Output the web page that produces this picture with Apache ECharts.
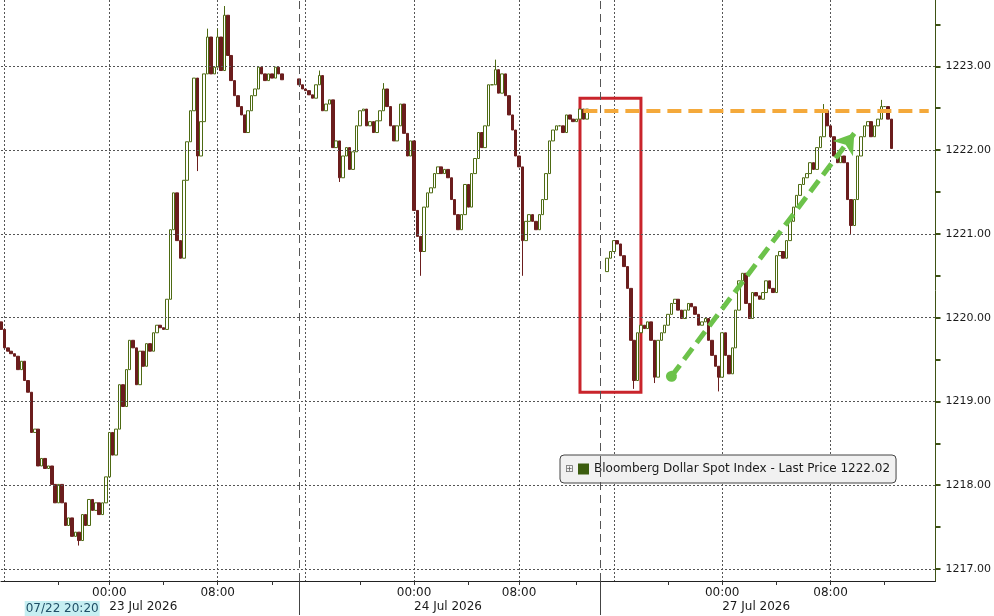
<!DOCTYPE html>
<html>
<head>
<meta charset="utf-8">
<script src="https://cdn.jsdelivr.net/npm/echarts@6/dist/echarts.min.js"></script>
<style>html,body{margin:0;padding:0;background:#fff}#c{width:994px;height:616px}</style>
</head>
<body>
<div id="c"></div>
<script>
// ---- data: 15-minute closes, by session ----
const session1Closes = [
  1219.86,1219.64,1219.60,1219.57,1219.54,1219.38,1219.48,1219.25,1219.11,1218.63,
  1218.67,1218.23,1218.32,1218.20,1218.23,1218.01,1217.79,1218.01,1217.79,1217.52,
  1217.61,1217.39,1217.44,1217.34,1217.65,1217.52,1217.83,1217.70,1217.79,1217.65,
  1217.79,1218.10,1218.63,1218.36,1218.67,1219.20,1218.94,1219.38,1219.73,1219.64,
  1219.20,1219.60,1219.42,1219.69,1219.60,1219.82,1219.91,1219.88,1219.86,1220.22,
  1221.05,1221.49,1220.92,1220.71,1221.64,1222.10,1222.47,1222.86,1221.93,1222.34,
  1222.91,1223.35,1222.91,1222.99,1223.35,1222.95,1223.61,1223.13,1222.83,1222.65,
  1222.52,1222.42,1222.21,1222.47,1222.65,1222.73,1222.99,1222.91,1222.83,1222.91,
  1222.86,1222.99,1222.91,1222.84
];
const session2Closes = [
  1222.78,1222.73,1222.71,1222.66,1222.62,1222.78,1222.89,1222.47,1222.55,1222.60,
  1222.03,1222.11,1221.67,1221.93,1222.03,1221.77,1221.98,1222.29,1222.47,1222.49,
  1222.29,1222.34,1222.21,1222.35,1222.47,1222.73,1222.52,1222.29,1222.11,1222.29,
  1222.55,1222.20,1221.93,1222.11,1221.28,1220.97,1220.79,1221.32,1221.49,1221.55,
  1221.72,1221.80,1221.72,1221.77,1221.67,1221.41,1221.23,1221.05,1221.23,1221.59,
  1221.32,1221.72,1221.90,1222.21,1222.03,1222.29,1222.78,1222.78,1222.96,1222.68,
  1222.91,1222.65,1222.42,1222.24,1221.93,1221.80,1220.92,1221.15,1221.23,1221.15,
  1221.05,1221.23,1221.41,1221.72,1222.11,1222.24,1222.29,1222.29,1222.21,1222.42,
  1222.37,1222.34,1222.37,1222.49,1222.37,1222.49
];
const session3Closes = [
  1220.71,1220.79,1220.92,1220.88,1220.74,1220.61,1220.35,1219.73,1219.25,1219.82,
  1219.91,1219.87,1219.95,1219.73,1219.29,1219.73,1219.82,1219.91,1220.04,1220.17,
  1220.22,1220.09,1219.99,1220.09,1220.17,1220.13,1220.04,1219.91,1219.95,1219.99,
  1219.73,1219.55,1219.42,1219.29,1219.82,1219.55,1219.33,1219.64,1220.09,1220.44,
  1220.53,1220.17,1219.99,1220.30,1220.26,1220.22,1220.30,1220.44,1220.35,1220.30,
  1220.74,1220.79,1220.71,1220.92,1221.15,1221.32,1221.46,1221.59,1221.67,1221.72,
  1221.85,1221.77,1222.03,1222.16,1222.47,1222.29,1222.16,1221.93,1221.85,1221.93,
  1221.85,1221.41,1221.10,1221.41,1221.93,1222.16,1222.29,1222.34,1222.16,1222.29,
  1222.37,1222.52,1222.52,1222.37,1222.02
];
const sessionOpens = [1219.95, 1222.85, 1220.55];
const sessionGapSlots = [4, 5, 13];          // empty slots after each session
const highWicks = [[61,1223.45],[64,1223.45],[66,1223.72],[94,1222.95],[113,1222.80],[146,1223.08],[243,1222.55],[260,1222.60]];
const lowWicks  = [[23,1217.28],[58,1221.75],[100,1221.62],[124,1220.50],[154,1220.50],[187,1219.15],[193,1219.22],[212,1219.12],[251,1221.00]];

// ticks / labels
const timeTickIdx  = [32, 64, 122, 153, 213, 245];
const timeTickText = ['00:00','08:00','00:00','08:00','00:00','08:00'];
const dateTickIdx  = [7, 32, 122, 213];
const dateTickText = ['{s|07/22 20:20}','23 Jul 2026','24 Jul 2026','27 Jul 2026'];
const minorTickIdx = [17, 48, 80, 106, 138, 170, 197, 229, 261];
const vGridIdx     = [1, 32, 64, 90, 122, 153, 181, 213, 245];
const sessionSepIdx = [88, 177];
const yGridValues  = [1217,1218,1219,1220,1221,1222,1223];
const yTickValues  = [1217,1217.5,1218,1218.5,1219,1219.5,1220,1220.5,1221,1221.5,1222,1222.5,1223,1223.5];
const yMin = 1216.857, yMax = 1223.792;

// annotations
const resistanceLevel = 1222.47, resistanceFrom = 172, resistanceTo = 274;
const arrowStart = [198, 1219.30], arrowEnd = [252, 1222.20];
const boxCorners = [[171, 1222.62], [189, 1219.11]];
const seriesName = 'Bloomberg Dollar Spot Index - Last Price';

// ---- build ----
const closes = [];
const segStarts = [];
[session1Closes, session2Closes, session3Closes].forEach((s, k) => {
  segStarts.push(closes.length);
  s.forEach(v => closes.push(v));
  for (let g = 0; g < sessionGapSlots[k]; g++) closes.push(null);
});
const categories = closes.map((_, i) => String(i));
const hw = Object.fromEntries(highWicks), lw = Object.fromEntries(lowWicks);
const ohlc = closes.map((c, i) => {
  if (c == null) return '-';
  const si = segStarts.indexOf(i);
  const o = si >= 0 ? sessionOpens[si] : closes[i - 1];
  const hi = Math.max(o, c, hw[i] != null ? hw[i] : -Infinity);
  const lo = Math.min(o, c, lw[i] != null ? lw[i] : Infinity);
  return [o, c, lo, hi];
});
let lastPrice = null;
for (let i = closes.length - 1; i >= 0; i--) if (closes[i] != null) { lastPrice = closes[i]; break; }
const legendName = seriesName + ' ' + lastPrice.toFixed(2);

const FONT = 'DejaVu Sans';
const chart = echarts.init(document.getElementById('c'), null, {renderer: 'canvas'});
chart.setOption({
  animation: false,
  backgroundColor: '#ffffff',
  textStyle: {fontFamily: FONT},
  grid: {left: 1, right: 57, top: 0, bottom: 34, containLabel: false},
  legend: {
    data: [{name: legendName, icon: 'rect', itemStyle: {color: '#3b5c0e', borderWidth: 0}}],
    left: 560, top: 455, itemWidth: 11, itemHeight: 11, itemGap: 0, selectedMode: false,
    backgroundColor: '#f1f1f1', borderColor: '#444', borderWidth: 1, borderRadius: 4,
    padding: [8, 6, 8, 18],
    textStyle: {fontFamily: FONT, fontSize: 12, color: '#1a1a1a'}
  },
  graphic: [{type: 'text', left: 565, top: 464, z: 100, style: {text: '\u229E', fontSize: 10, fill: '#666', fontFamily: FONT}}],
  xAxis: [{
    type: 'category', data: categories, boundaryGap: false, position: 'bottom',
    axisLine: {lineStyle: {color: '#222', width: 1}},
    axisTick: {show: true, length: 4, interval: (i) => minorTickIdx.includes(i) || timeTickIdx.includes(i), lineStyle: {color: '#333'}},
    axisLabel: {
      interval: (i) => timeTickIdx.includes(i),
      formatter: (v) => { const k = timeTickIdx.indexOf(Number(v)); return k >= 0 ? timeTickText[k] : ''; },
      fontSize: 12, color: '#1a1a1a', margin: 6, fontFamily: FONT, hideOverlap: false
    },
    splitLine: {show: true, interval: (i) => vGridIdx.includes(i), lineStyle: {type: [2, 2], color: '#555', width: 1}}
  }, {
    type: 'category', data: categories, boundaryGap: false, position: 'bottom',
    axisLine: {show: false},
    axisTick: {show: true, length: 34, interval: (i) => sessionSepIdx.includes(i), lineStyle: {color: '#444'}},
    axisLabel: {
      interval: (i) => dateTickIdx.includes(i),
      formatter: (v) => { const k = dateTickIdx.indexOf(Number(v)); return k >= 0 ? dateTickText[k] : ''; },
      align: 'left', fontSize: 12, color: '#1a1a1a', margin: 20, fontFamily: FONT, hideOverlap: false,
      rich: {s: {backgroundColor: '#c6eff2', color: '#1f4f66', fontSize: 12, fontFamily: FONT, padding: [2, 1, 1, 1]}}
    },
    splitLine: {show: false}
  }],
  yAxis: {
    type: 'value', position: 'right', min: yMin, max: yMax, scale: true,
    axisLine: {show: true, lineStyle: {color: '#3e5215', width: 1}},
    axisTick: {show: true, customValues: yTickValues, length: 5, lineStyle: {color: '#3e5215', width: 2}},
    axisLabel: {customValues: yGridValues, formatter: (v) => Number(v).toFixed(2), fontSize: 11, color: '#1a1a1a', margin: 10, fontFamily: FONT},
    splitLine: {show: false}
  },
  series: [{
    type: 'line', name: 'gridlines', data: [], z: 1, silent: true,
    markLine: {
      silent: true, symbol: 'none', label: {show: false}, animation: false,
      lineStyle: {type: [2, 2], color: '#555', width: 1},
      data: yGridValues.map(v => ({yAxis: v})).concat(
        sessionSepIdx.map(i => ({xAxis: i, lineStyle: {type: [8, 5], color: '#555', width: 1}})))
    }
  }, {
    type: 'candlestick', name: legendName, data: ohlc, z: 2, barWidth: 3,
    itemStyle: {color: '#ffffff', color0: '#6b1d1d', borderColor: '#4d6a12', borderColor0: '#6b1d1d', borderColorDoji: '#4d6a12', borderWidth: 1}
  }, {
    type: 'line', name: 'annotations', data: [], z: 5, silent: true,
    markArea: {
      silent: true, label: {show: false},
      itemStyle: {color: 'rgba(0,0,0,0)', borderColor: '#c9242b', borderWidth: 3},
      data: [[{coord: boxCorners[0]}, {coord: boxCorners[1]}]]
    },
    markLine: {
      silent: true, symbol: 'none', animation: false, label: {show: false},
      data: [
        [{coord: [resistanceFrom, resistanceLevel]}, {coord: [resistanceTo, resistanceLevel],
          lineStyle: {color: '#f4a93b', width: 4, type: [14, 7]}}],
        [{coord: arrowStart, symbol: 'circle', symbolSize: 11},
         {coord: arrowEnd, symbol: 'arrow', symbolSize: 19, lineStyle: {color: '#6cc24a', width: 5, type: [14, 7]}}],
        {yAxis: lastPrice, lineStyle: {width: 0, opacity: 0},
         label: {show: true, position: 'end', distance: 1, formatter: lastPrice.toFixed(2),
           backgroundColor: '#3a5b10', color: '#d9f5b0', padding: [3, 4, 2, 6], fontSize: 11, fontFamily: FONT}}
      ]
    }
  }]
});
</script>
</body>
</html>
